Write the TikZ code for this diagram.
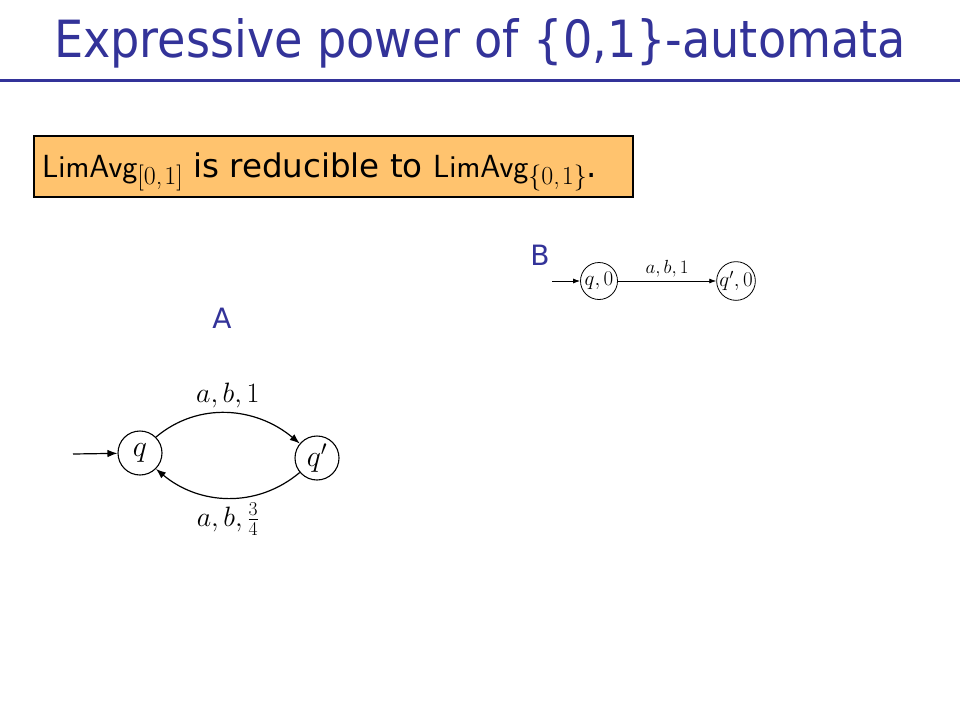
\RequirePackage{fix-cm}
\documentclass[tikz,border=0pt]{standalone}
\usepackage{fontspec}
\setmainfont{DejaVu Sans}
\newfontfamily\titlefont{DejaVu Sans Condensed}
\newfontfamily\bodyfont{DejaVu Sans}
\newfontfamily\lmrfont{Latin Modern Roman}
\usetikzlibrary{arrows.meta}
\definecolor{titleblue}{RGB}{51,51,153}
\definecolor{boxorange}{RGB}{255,195,110}
\newcommand{\limavg}{{\sffamily\fontsize{32}{36}\selectfont LimAvg}}
\newcommand{\subs}[1]{\raisebox{-7pt}{\lmrfont\fontsize{26}{28}\selectfont #1}}
\begin{document}
\begin{tikzpicture}[x=1pt,y=-1pt,
  stateA/.style={circle,draw,line width=1.1pt,minimum size=44pt,inner sep=0pt,font=\fontsize{30}{34}\selectfont},
  stateB/.style={circle,draw,line width=0.8pt,minimum size=37pt,inner sep=0pt,font=\fontsize{21}{24}\selectfont},
  edgeA/.style={-{Latex[length=10pt,width=7.5pt]},line width=1.2pt},
  edgeB/.style={-{Latex[length=7pt,width=5pt]},line width=0.8pt},
  lbl/.style={text=titleblue,font=\fontsize{28}{32}\selectfont}]
\useasboundingbox (0,0) rectangle (960,720);
\fill[white] (0,0) rectangle (960,720);
% title
\node[text=titleblue,font=\titlefont\fontsize{51.3}{60}\selectfont] (title) at (480,43) {Expressive power of \{0,1\}-automata};
\draw[titleblue,line width=3pt] (0,80) -- (960,80);
% box
\node[draw=black,line width=2pt,fill=boxorange,anchor=west,minimum width=599pt,minimum height=61pt,inner sep=0pt] (claim) at (33,166.5) {};
\node[anchor=base west,inner sep=0pt,font=\bodyfont\fontsize{32.5}{38}\selectfont] (claimtext) at (42,177)
 {\limavg\subs{[0,\kern2pt1]} is reducible to \limavg\subs{\{0,\kern2pt1\}}.};
% labels
\node[lbl] (labB) at (540,255) {B};
\node[lbl] (labA) at (222,318) {A};
% automaton B
\node[stateB] (bq) at (599,281) {$q,0$};
\node[stateB] (bq2) at (736,281) {$q',0$};
\coordinate (bin) at (552,281);
\draw[edgeB] (bin) -- (bq);
\draw[edgeB] (bq) -- node[above,inner sep=3pt,font=\fontsize{19}{22}\selectfont] (bl) {$a,b,1$} (bq2);
% automaton A
\node[stateA] (aq) at (140,453) {$q$};
\node[stateA] (aq2) at (317,458) {$q'$};
\coordinate (ain) at (73,454);
\draw[edgeA] (ain) -- (aq);
\draw[edgeA] (aq.45) to[out=40,in=140] node[above,inner sep=5pt,font=\fontsize{28}{32}\selectfont] (al1) {$a,b,1$} (aq2.140);
\draw[edgeA] (aq2.-140) to[out=-140,in=-40] node[below,inner sep=4pt,font=\fontsize{28}{32}\selectfont] (al2) {$a,b,\frac{3}{4}$} (aq.-45);
\end{tikzpicture}
\end{document}
